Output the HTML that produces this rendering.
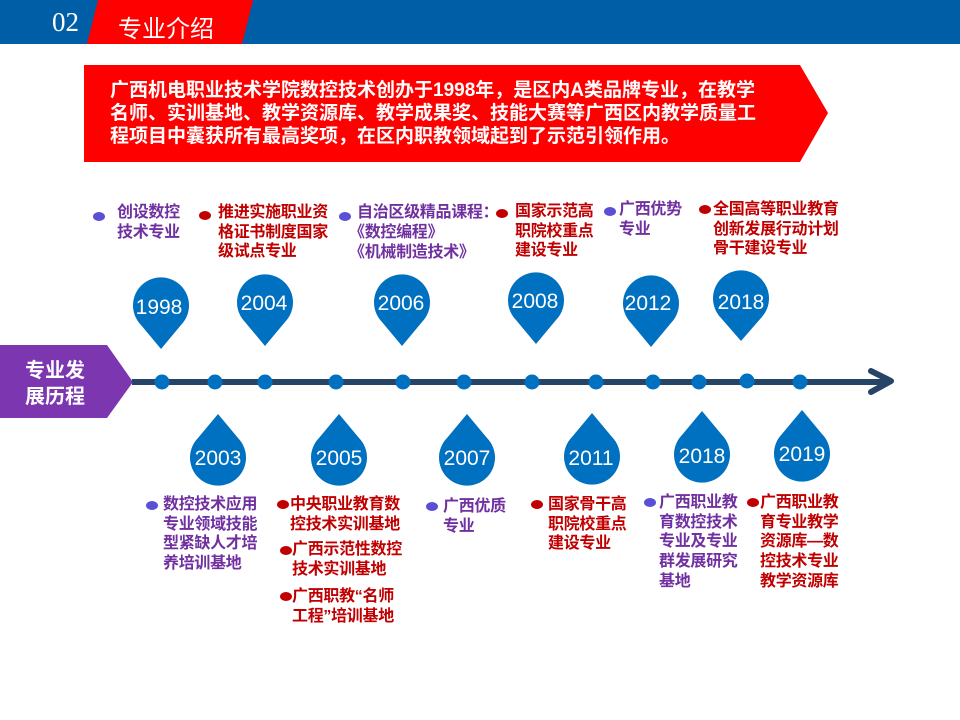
<!DOCTYPE html>
<html><head><meta charset="utf-8"><style>
body{margin:0;width:960px;height:720px;position:relative;overflow:hidden;background:#fff;font-family:"Liberation Sans","Noto Sans CJK SC",sans-serif}
.t{position:absolute;font-size:16px;font-weight:bold;line-height:19.7px;white-space:nowrap;letter-spacing:-0.3px}
.p{color:#7030a0}.r{color:#c00000}
.b{position:absolute;width:12px;height:9px;border-radius:50%}
.bp{background:#5b4fd6}.br{background:#c00000}
</style></head><body>
<svg width="960" height="720" style="position:absolute;left:0;top:0">
<rect x="0" y="0" width="960" height="44" fill="#005ea6"/>
<polygon points="98,0 253,0 242,44 87,44" fill="#ff0000"/>
<polygon points="84,65 800,65 828,113 800,162 84,162" fill="#ff0000"/>
<polygon points="0,345 107,345 133,382 107,418 0,418" fill="#7b36b0"/>
<line x1="132" y1="382" x2="890" y2="382" stroke="#264466" stroke-width="6"/>
<polyline points="871,371 891,381 871,392" fill="none" stroke="#264466" stroke-width="6" stroke-linecap="round" stroke-linejoin="round"/>
<g fill="#0070c0">
<circle cx="162" cy="382" r="7.5"/><circle cx="215" cy="382" r="7.5"/><circle cx="265" cy="382" r="7.5"/><circle cx="336" cy="382" r="7.5"/><circle cx="403" cy="382" r="7.5"/><circle cx="464" cy="382" r="7.5"/><circle cx="532" cy="382" r="7.5"/><circle cx="596" cy="382" r="7.5"/><circle cx="653" cy="382" r="7.5"/><circle cx="699" cy="382" r="7.5"/><circle cx="747" cy="381" r="7.5"/><circle cx="800" cy="382" r="7.5"/>
<path d="M141,325 A28 28 0 1 1 181,325 L161,349 Z"/>
<path d="M245,322 A28 28 0 1 1 285,322 L265,346 Z"/>
<path d="M382,322 A28 28 0 1 1 422,322 L402,346 Z"/>
<path d="M516,320 A28 28 0 1 1 556,320 L536,344 Z"/>
<path d="M631,323 A28 28 0 1 1 671,323 L651,347 Z"/>
<path d="M721,318 A28 28 0 1 1 761,318 L741,341 Z"/>
<path d="M198,438 A28 28 0 1 0 238,438 L218,414 Z"/>
<path d="M319,438 A28 28 0 1 0 359,438 L339,414 Z"/>
<path d="M447,438 A28 28 0 1 0 487,438 L467,414 Z"/>
<path d="M572,437 A28 28 0 1 0 612,437 L592,413 Z"/>
<path d="M682,435 A28 28 0 1 0 722,435 L702,411 Z"/>
<path d="M782,434 A28 28 0 1 0 822,434 L802,410 Z"/>
</g>
<g fill="#fff" font-family="Liberation Sans,sans-serif" font-size="21" text-anchor="middle">
<text x="159" y="314">1998</text><text x="264" y="310">2004</text><text x="401" y="310">2006</text><text x="535" y="308">2008</text><text x="648" y="310">2012</text><text x="741" y="309">2018</text>
<text x="218" y="465">2003</text><text x="339" y="465">2005</text><text x="467" y="465">2007</text><text x="591" y="465">2011</text><text x="702" y="463">2018</text><text x="802" y="461">2019</text>
</g>
</svg>
<div style="position:absolute;left:52px;top:7px;font-family:'Liberation Serif',serif;font-size:27px;color:#fff">02</div>
<div style="position:absolute;left:118px;top:9px;font-size:24px;color:#fff">专业介绍</div>
<div style="position:absolute;left:110px;top:79px;font-size:19px;font-weight:bold;color:#fff;line-height:23px;white-space:nowrap;letter-spacing:0px">广西机电职业技术学院数控技术创办于1998年，是区内A类品牌专业，在教学<br>名师、实训基地、教学资源库、教学成果奖、技能大赛等广西区内教学质量工<br>程项目中囊获所有最高奖项，在区内职教领域起到了示范引领作用。</div>
<div style="position:absolute;left:25px;top:358px;font-size:20px;font-weight:bold;color:#fff;line-height:26px">专业发<br>展历程</div>

<div class="b bp" style="left:93px;top:212px"></div><div class="t p" style="left:117px;top:203px">创设数控<br>技术专业</div>
<div class="b br" style="left:199px;top:211px"></div><div class="t r" style="left:218px;top:203px">推进实施职业资<br>格证书制度国家<br>级试点专业</div>
<div class="b bp" style="left:339px;top:212px"></div><div class="t p" style="left:357px;top:203px">自治区级精品课程：</div><div class="t p" style="left:349px;top:223px">《数控编程》<br>《机械制造技术》</div>
<div class="b br" style="left:496px;top:209px"></div><div class="t r" style="left:515px;top:202px">国家示范高<br>职院校重点<br>建设专业</div>
<div class="b bp" style="left:604px;top:207px"></div><div class="t p" style="left:619px;top:200px">广西优势<br>专业</div>
<div class="b br" style="left:699px;top:205px"></div><div class="t r" style="left:713px;top:200px">全国高等职业教育<br>创新发展行动计划<br>骨干建设专业</div>

<div class="b bp" style="left:146px;top:501px"></div><div class="t p" style="left:163px;top:495px">数控技术应用<br>专业领域技能<br>型紧缺人才培<br>养培训基地</div>
<div class="b br" style="left:277px;top:500px"></div><div class="t r" style="left:290px;top:495px">中央职业教育数<br>控技术实训基地</div>
<div class="b br" style="left:280px;top:546px"></div><div class="t r" style="left:292px;top:540px">广西示范性数控<br>技术实训基地</div>
<div class="b br" style="left:280px;top:592px"></div><div class="t r" style="left:292px;top:587px">广西职教“名师<br>工程”培训基地</div>
<div class="b bp" style="left:426px;top:502px"></div><div class="t p" style="left:443px;top:497px">广西优质<br>专业</div>
<div class="b br" style="left:531px;top:500px"></div><div class="t r" style="left:548px;top:495px">国家骨干高<br>职院校重点<br>建设专业</div>
<div class="b bp" style="left:644px;top:498px"></div><div class="t p" style="left:659px;top:493px">广西职业教<br>育数控技术<br>专业及专业<br>群发展研究<br>基地</div>
<div class="b br" style="left:747px;top:498px"></div><div class="t r" style="left:760px;top:493px">广西职业教<br>育专业教学<br>资源库—数<br>控技术专业<br>教学资源库</div>
</body></html>
